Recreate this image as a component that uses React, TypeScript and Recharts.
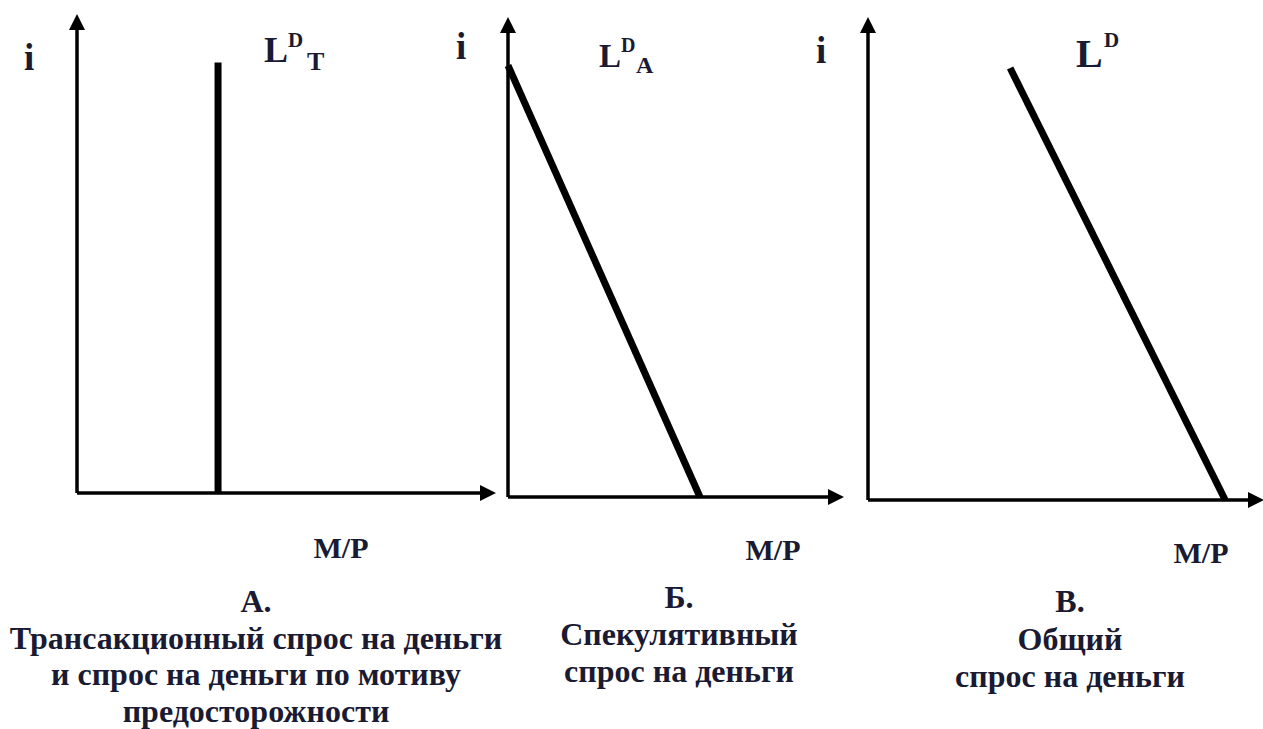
import React from 'react';
import { LineChart, Line, XAxis, YAxis } from 'recharts';

// panel A: transactional demand (vertical)
const panelAX = [3.5, 3.5];
const panelAY = [0, 9.3];
// panel B: speculative demand
const panelBX = [0, 6.0];
const panelBY = [9.3, 0];
// panel C: total demand
const panelCX = [3.74, 9.4];
const panelCY = [9.25, 0];

const captionA = ['А.', 'Трансакционный спрос на деньги', 'и спрос на деньги по мотиву', 'предосторожности'];
const captionB = ['Б.', 'Спекулятивный', 'спрос на деньги'];
const captionC = ['В.', 'Общий', 'спрос на деньги'];

const toRows = (xs: number[], ys: number[]) => xs.map((x, i) => ({ x, y: ys[i] }));

const W = 1263;
const H = 729;
const INK = '#1a1a33';
const FONT = "'Liberation Serif', serif";

interface PanelProps {
  rows: { x: number; y: number }[];
  margin: { top: number; right: number; bottom: number; left: number };
}

const Panel: React.FC<PanelProps> = ({ rows, margin }) => (
  <div style={{ position: 'absolute', left: 0, top: 0 }}>
    <LineChart width={W} height={H} data={rows} margin={margin}>
      <XAxis
        type="number"
        dataKey="x"
        domain={[0, 10]}
        height={1}
        tick={false}
        tickLine={false}
        axisLine={{ stroke: '#000', strokeWidth: 3.5, markerEnd: 'url(#arrowHead)' }}
      />
      <YAxis
        type="number"
        dataKey="y"
        domain={[0, 10]}
        width={1}
        tick={false}
        tickLine={false}
        axisLine={{ stroke: '#000', strokeWidth: 3.5, markerStart: 'url(#arrowHead)' }}
      />
      <Line
        type="linear"
        dataKey="y"
        stroke="#000"
        strokeWidth={7}
        dot={false}
        activeDot={false}
        isAnimationActive={false}
      />
    </LineChart>
  </div>
);

const Caption: React.FC<{ lines: string[]; cx: number; y0: number; step: number; size: number }> = ({
  lines,
  cx,
  y0,
  step,
  size,
}) => (
  <>
    {lines.map((t, i) => (
      <text key={t} x={cx} y={y0 + i * step} textAnchor="middle" fontSize={size}>
        {t}
      </text>
    ))}
  </>
);

export default function App() {
  return (
    <div style={{ position: 'absolute', left: 0, top: 0, width: W, height: H, background: '#fff', overflow: 'hidden' }}>
      <Panel rows={toRows(panelAX, panelAY)} margin={{ top: 30, right: 783, bottom: 235, left: 76 }} />
      <Panel rows={toRows(panelBX, panelBY)} margin={{ top: 33, right: 435, bottom: 231, left: 507 }} />
      <Panel rows={toRows(panelCX, panelCY)} margin={{ top: 33, right: 15, bottom: 228, left: 867 }} />
      <svg
        width={W}
        height={H}
        style={{
          position: 'absolute',
          left: 0,
          top: 0,
          pointerEvents: 'none',
          fontFamily: FONT,
          fontWeight: 'bold',
          fill: INK,
        }}
      >
        <defs>
          <marker
            id="arrowHead"
            viewBox="0 0 10 10"
            refX="0"
            refY="5"
            markerWidth="16"
            markerHeight="16"
            markerUnits="userSpaceOnUse"
            orient="auto-start-reverse"
          >
            <path d="M0,0 L10,5 L0,10 z" fill="#000" />
          </marker>
        </defs>

        {/* axis names */}
        <text x={24} y={70} fontSize={37}>i</text>
        <text x={456} y={59} fontSize={37}>i</text>
        <text x={816} y={63} fontSize={37}>i</text>

        <text x={341} y={558} textAnchor="middle" fontSize={30}>M/P</text>
        <text x={773} y={560} textAnchor="middle" fontSize={30}>M/P</text>
        <text x={1201} y={563} textAnchor="middle" fontSize={30}>M/P</text>

        {/* curve labels */}
        <text x={264} y={62} fontSize={36}>L</text>
        <text x={288} y={47} fontSize={21}>D</text>
        <text x={307} y={70} fontSize={26}>T</text>

        <text x={599} y={67} fontSize={33}>L</text>
        <text x={621} y={52} fontSize={20}>D</text>
        <text x={636} y={73} fontSize={24}>A</text>

        <text x={1076} y={67} fontSize={40}>L</text>
        <text x={1104} y={47} fontSize={21}>D</text>

        <Caption lines={captionA} cx={256} y0={612} step={36.5} size={32} />
        <Caption lines={captionB} cx={679} y0={608} step={37} size={32} />
        <Caption lines={captionC} cx={1070} y0={612} step={37.5} size={32} />
      </svg>
    </div>
  );
}
